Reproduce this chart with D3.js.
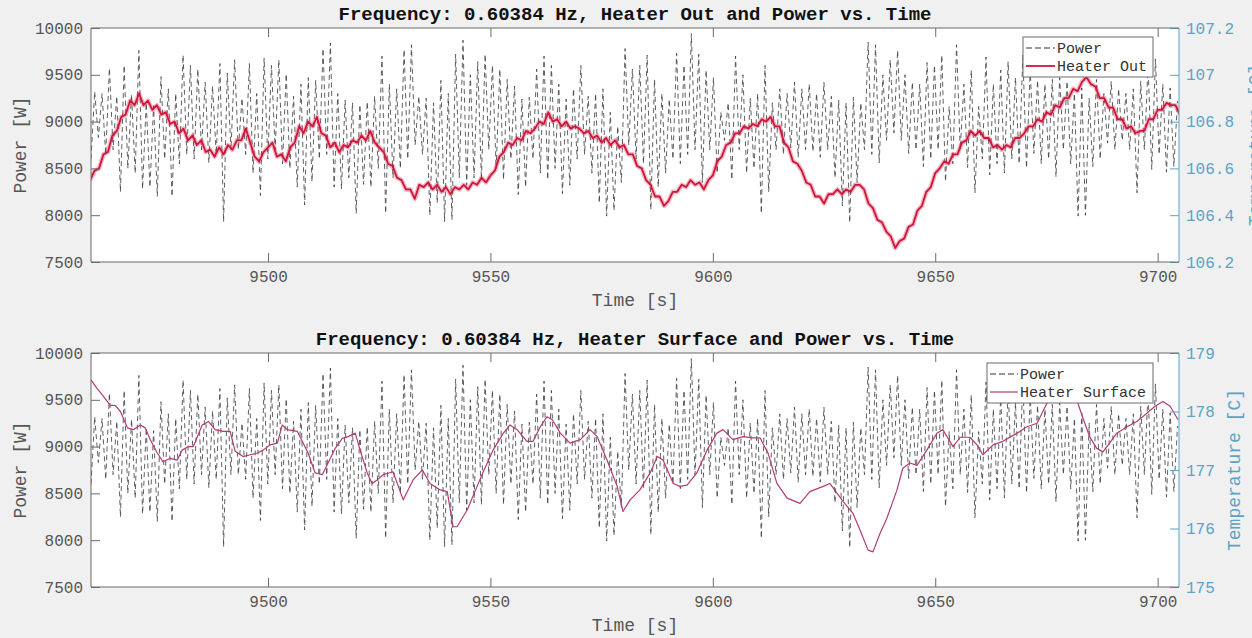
<!DOCTYPE html>
<html lang="en">
<head>
<meta charset="utf-8">
<script src="https://d3js.org/d3.v7.min.js"></script>
<style>
  body { margin: 0; background: #f0f0f0; }
  text { font-family: "Liberation Mono", "Courier New", monospace; }
</style>
</head>
<body>
<script type="text/javascript">

// ---- data ----
var timeDomain = [9460.2, 9704.8];
var timeTicks = [9500, 9550, 9600, 9650, 9700];
var powerTicks = [7500, 8000, 8500, 9000, 9500, 10000];
var outTicks = [106.2, 106.4, 106.6, 106.8, 107, 107.2];
var surfaceTicks = [175, 176, 177, 178, 179];

// power: one low and one high level per heater cycle
var powerStart = 9460.2;
var powerFreq = 0.60384;
var powerLow = [
  8600, 8830, 8650, 8700, 8250, 8500, 8450, 8280, 8300, 8200,
  8600, 8200, 8550, 8650, 8600, 8700, 8560, 8650, 7930, 8700,
  8700, 8650, 8450, 8210, 8600, 8700, 8550, 8500, 8300, 8110,
  8360, 8600, 8650, 8300, 8280, 8400, 8020, 8330, 8300, 8500,
  8020, 8400, 8500, 8600, 8750, 8650, 8000, 8130, 7930, 7950,
  8400, 8320, 8400, 8380, 8700, 8500, 8380, 8600, 8220, 8300,
  8600, 8450, 8380, 8500, 8230, 8320, 8600, 8650, 8450, 8130,
  7990, 8050, 8350, 8750, 8600, 8550, 8060, 8300, 8450, 8600,
  8550, 8650, 8700, 8350, 8700, 8450, 8800, 8380, 8700, 8450,
  8500, 8020, 8250, 8700, 8650, 8720, 8620, 8700, 8680, 8620,
  8700, 8400, 8100, 7920, 8350, 8700, 8650, 8560, 8800, 8880,
  8800, 8660, 8700, 8520, 8600, 8700, 8360, 8550, 8700, 8510,
  8240, 8600, 8430, 8550, 8450, 8600, 8550, 8505, 8660, 8550,
  8600, 8410, 8700, 8550, 7990, 8000, 8520, 8600, 8770, 8700,
  8800, 8700, 8240, 8700, 8490, 8650, 8460, 8520
];
var powerHigh = [
  9320, 9300, 9570, 9270, 9600, 9290, 9760, 9200, 9170, 9480,
  9350, 9300, 9710, 9600, 9560, 9420, 9380, 9620, 9520, 9660,
  9250, 9620, 9300, 9680, 9600, 9660, 9510, 9270, 9400, 9470,
  9440, 9780, 9840, 9300, 9230, 9200, 9180, 9210, 9270, 9700,
  9400, 9350, 9770, 9820, 9270, 9250, 9200, 9440, 9300, 9720,
  9870, 9500, 9640, 9720, 9600, 9560, 9450, 9380, 9240, 9260,
  9560, 9700, 9600, 9400, 9240, 9350, 9600, 9270, 9300, 9350,
  9100, 8950, 9780, 9560, 9600, 9710, 9450, 9300, 9240, 9730,
  9600, 9940, 9720, 9550, 9470, 9100, 9200, 9700, 9500, 9250,
  9300, 9600, 9200, 9350, 9300, 9420, 9350, 9400, 9300, 9420,
  9270, 9230, 9200, 9260, 9200, 9850, 9820, 9500, 9660, 9760,
  9500, 9420, 9400, 9630, 9600, 9710, 9160, 9820, 9400, 9550,
  9160, 9690, 9400, 9550, 9640, 9470, 9710, 9550, 9440, 9400,
  9450, 9470, 9430, 9300, 9360, 9250, 9450, 9300, 9430, 9350,
  9300, 9350, 9430, 9590, 9670, 9400, 9360, 9220
];

// heater out temperature [C], one reading per second from outStart
var outStart = 9460;
var heaterOut = [
  106.55, 106.59, 106.60, 106.66, 106.67, 106.74, 106.76, 106.82, 106.83, 106.89,
  106.87, 106.92, 106.87, 106.89, 106.85, 106.87, 106.83, 106.84, 106.79, 106.80,
  106.75, 106.77, 106.72, 106.74, 106.70, 106.72, 106.67, 106.68, 106.65, 106.69,
  106.66, 106.70, 106.68, 106.72, 106.72, 106.77, 106.71, 106.65, 106.63, 106.67,
  106.69, 106.71, 106.65, 106.66, 106.63, 106.69, 106.71, 106.78, 106.75, 106.80,
  106.78, 106.82, 106.75, 106.74, 106.69, 106.71, 106.67, 106.70, 106.69, 106.72,
  106.71, 106.74, 106.72, 106.76, 106.71, 106.69, 106.67, 106.62, 106.61, 106.56,
  106.55, 106.51, 106.51, 106.47, 106.53, 106.52, 106.54, 106.51, 106.53, 106.50,
  106.52, 106.49, 106.52, 106.51, 106.53, 106.51, 106.54, 106.53, 106.56, 106.54,
  106.57, 106.59, 106.65, 106.67, 106.71, 106.70, 106.73, 106.72, 106.76, 106.75,
  106.77, 106.80, 106.79, 106.84, 106.80, 106.81, 106.78, 106.80, 106.77, 106.78,
  106.77, 106.75, 106.76, 106.73, 106.74, 106.71, 106.73, 106.70, 106.72, 106.69,
  106.70, 106.66, 106.66, 106.61, 106.60, 106.55, 106.53, 106.48, 106.48, 106.44,
  106.46, 106.50, 106.50, 106.53, 106.52, 106.55, 106.53, 106.54, 106.51, 106.55,
  106.57, 106.63, 106.65, 106.70, 106.71, 106.75, 106.75, 106.78, 106.77, 106.79,
  106.78, 106.81, 106.80, 106.82, 106.78, 106.78, 106.71, 106.69, 106.63, 106.62,
  106.59, 106.54, 106.53, 106.48, 106.48, 106.45, 106.49, 106.49, 106.51, 106.49,
  106.51, 106.50, 106.53, 106.53, 106.51, 106.45, 106.43, 106.38, 106.37, 106.33,
  106.31, 106.26, 106.29, 106.30, 106.35, 106.36, 106.42, 106.44, 106.50, 106.52,
  106.58, 106.60, 106.63, 106.62, 106.66, 106.66, 106.71, 106.72, 106.76, 106.74,
  106.76, 106.73, 106.73, 106.69, 106.70, 106.68, 106.70, 106.69, 106.73, 106.73,
  106.75, 106.78, 106.78, 106.81, 106.80, 106.84, 106.83, 106.87, 106.86, 106.90,
  106.90, 106.94, 106.93, 106.97, 106.99, 106.96, 106.95, 106.90, 106.90, 106.86,
  106.86, 106.81, 106.81, 106.77, 106.78, 106.75, 106.76, 106.76, 106.81, 106.81,
  106.85, 106.85, 106.88, 106.87, 106.87, 106.83
];

// heater surface temperature [C]
var surfaceTime = [
  9460.2, 9461.5, 9463.0, 9464.5, 9465.7, 9466.8, 9468.4, 9469.7, 9471.3, 9472.4,
  9473.5, 9475.1, 9476.4, 9478.0, 9479.6, 9480.7, 9482.1, 9483.2, 9485.2, 9486.6,
  9488.1, 9489.9, 9491.5, 9492.6, 9494.4, 9496.0, 9497.6, 9498.9, 9500.5, 9502.1,
  9503.2, 9504.3, 9506.6, 9507.7, 9509.0, 9510.6, 9512.2, 9513.5, 9515.1, 9516.7,
  9518.0, 9519.6, 9520.7, 9522.3, 9523.4, 9524.5, 9525.9, 9528.1, 9530.4, 9532.6,
  9534.7, 9536.4, 9538.7, 9540.3, 9541.6, 9542.5, 9544.8, 9547.0, 9548.4, 9550.6,
  9552.9, 9554.4, 9556.0, 9558.2, 9559.6, 9561.2, 9562.7, 9563.9, 9565.7, 9567.9,
  9570.2, 9572.4, 9574.0, 9576.2, 9578.5, 9579.8, 9581.4, 9583.6, 9585.9, 9587.5,
  9588.8, 9591.1, 9592.6, 9594.2, 9596.4, 9598.7, 9600.9, 9602.3, 9604.5, 9606.8,
  9609.0, 9610.6, 9612.4, 9614.4, 9616.7, 9619.6, 9621.8, 9624.8, 9626.3, 9629.3,
  9631.5, 9633.1, 9634.9, 9636.0, 9637.6, 9639.1, 9641.4, 9642.7, 9644.3, 9645.9,
  9648.1, 9650.4, 9651.7, 9654.0, 9655.6, 9657.8, 9659.4, 9660.7, 9663.0, 9665.2,
  9668.4, 9670.6, 9672.9, 9675.1, 9677.4, 9679.6, 9681.8, 9683.1, 9684.7, 9686.3,
  9687.7, 9689.2, 9690.8, 9693.1, 9695.3, 9697.6, 9699.4, 9701.2, 9702.8, 9704.6
];
var surfaceTemp = [
  178.54, 178.40, 178.26, 178.11, 178.10, 178.00, 177.72, 177.69, 177.77, 177.72,
  177.52, 177.29, 177.14, 177.20, 177.17, 177.34, 177.40, 177.40, 177.77, 177.83,
  177.69, 177.66, 177.66, 177.32, 177.23, 177.26, 177.29, 177.34, 177.43, 177.46,
  177.77, 177.69, 177.66, 177.49, 177.29, 176.95, 176.92, 177.12, 177.37, 177.54,
  177.57, 177.63, 177.34, 176.95, 176.77, 176.83, 176.92, 176.97, 176.49, 176.83,
  177.00, 176.77, 176.66, 176.63, 176.03, 176.03, 176.32, 176.72, 176.97, 177.34,
  177.63, 177.77, 177.69, 177.49, 177.49, 177.74, 177.91, 177.86, 177.63, 177.46,
  177.52, 177.69, 177.57, 177.17, 176.72, 176.29, 176.49, 176.66, 176.95, 177.23,
  177.17, 176.77, 176.72, 176.74, 176.95, 177.34, 177.63, 177.69, 177.52, 177.57,
  177.55, 177.55, 177.29, 176.77, 176.52, 176.43, 176.63, 176.72, 176.77, 176.46,
  176.26, 175.97, 175.63, 175.60, 175.92, 176.17, 176.66, 177.03, 177.12, 177.08,
  177.34, 177.63, 177.69, 177.40, 177.56, 177.56, 177.43, 177.26, 177.43, 177.49,
  177.63, 177.74, 177.80, 178.14, 178.37, 178.40, 178.20, 177.91, 177.57, 177.37,
  177.31, 177.46, 177.63, 177.74, 177.83, 177.97, 178.09, 178.17, 178.09, 177.86
];

// ---- drawing ----
var w = 1252;
var h = 638;
var left = 91, right = 1179;
var axisGrey = "#6a6a6a";
var tickGrey = "#555555";
var rightBlue = "#5aa3c8";

var svg = d3.select("body")
            .append("svg")
            .attr("width", w)
            .attr("height", h);

svg.append("rect")
   .attr("width", w)
   .attr("height", h)
   .attr("fill", "#f0f0f0");

var x = d3.scaleLinear()
          .domain(timeDomain)
          .range([left, right]);

// power series: low then high each cycle
var period = 1 / powerFreq;
var powerPts = [];
powerLow.forEach(function(v, i) {
  powerPts.push([powerStart + i * period, v]);
  powerPts.push([powerStart + (i + 0.5) * period, powerHigh[i]]);
});

var outPts = heaterOut.map(function(v, i) { return [outStart + i, v]; });
var surfacePts = surfaceTemp.map(function(v, i) { return [surfaceTime[i], v]; });

function fmtTemp(d) { return String(+d.toFixed(1)); }

function drawPanel(cfg) {
  var top = cfg.top, bottom = cfg.bottom;
  var g = svg.append("g");

  var yP = d3.scaleLinear().domain([7500, 10000]).range([bottom, top]);
  var yT = d3.scaleLinear().domain(cfg.tempDomain).range([bottom, top]);

  g.append("rect")
   .attr("x", left).attr("y", top)
   .attr("width", right - left).attr("height", bottom - top)
   .attr("fill", "#ffffff");

  g.append("clipPath").attr("id", cfg.id)
   .append("rect")
   .attr("x", left).attr("y", top)
   .attr("width", right - left).attr("height", bottom - top);

  var plot = g.append("g").attr("clip-path", "url(#" + cfg.id + ")");

  plot.append("path")
      .datum(powerPts)
      .attr("d", d3.line().x(function(d) { return x(d[0]); }).y(function(d) { return yP(d[1]); }))
      .attr("fill", "none")
      .attr("stroke", "#3a3a3a")
      .attr("stroke-opacity", 0.8)
      .attr("stroke-width", 1)
      .attr("stroke-dasharray", "5,3.5");

  var tempLine = d3.line()
                   .x(function(d) { return x(d[0]); })
                   .y(function(d) { return yT(d[1]); });

  if (cfg.halo) {
    plot.append("path")
        .datum(cfg.tempPts)
        .attr("d", tempLine)
        .attr("fill", "none")
        .attr("stroke", cfg.tempColor)
        .attr("stroke-opacity", 0.3)
        .attr("stroke-width", cfg.halo)
        .attr("stroke-linejoin", "round");
  }

  plot.append("path")
      .datum(cfg.tempPts)
      .attr("d", tempLine)
      .attr("fill", "none")
      .attr("stroke", cfg.tempColor)
      .attr("stroke-width", cfg.tempWidth)
      .attr("stroke-linejoin", "round");

  // axes
  var xb = g.append("g")
            .attr("transform", "translate(0," + bottom + ")")
            .style("color", axisGrey)
            .call(d3.axisBottom(x).tickValues(timeTicks).tickSize(-9).tickPadding(9).tickFormat(d3.format("d")));
  var xt = g.append("g")
            .attr("transform", "translate(0," + top + ")")
            .style("color", axisGrey)
            .call(d3.axisTop(x).tickValues(timeTicks).tickSize(-9).tickFormat(""));
  var yl = g.append("g")
            .attr("transform", "translate(" + left + ",0)")
            .style("color", axisGrey)
            .call(d3.axisLeft(yP).tickValues(powerTicks).tickSize(-9).tickPadding(8).tickFormat(d3.format("d")));
  var yr = g.append("g")
            .attr("transform", "translate(" + right + ",0)")
            .style("color", rightBlue)
            .call(d3.axisRight(yT).tickValues(cfg.tempTicks).tickSize(-9).tickPadding(7).tickFormat(fmtTemp));

  [xb, xt, yl, yr].forEach(function(a) {
    a.select(".domain").remove();
    a.selectAll("text").attr("font-size", 16).attr("font-family", "Liberation Mono, monospace");
  });
  xb.selectAll("text").attr("fill", tickGrey);
  yl.selectAll("text").attr("fill", tickGrey);

  // box
  g.append("path")
   .attr("d", "M" + right + "," + top + "H" + left + "V" + bottom + "H" + right)
   .attr("fill", "none").attr("stroke", axisGrey).attr("stroke-width", 1);
  g.append("line")
   .attr("x1", right).attr("x2", right).attr("y1", top).attr("y2", bottom)
   .attr("stroke", rightBlue).attr("stroke-width", 1);

  // title and labels
  g.append("text")
   .attr("x", (left + right) / 2).attr("y", top - 8)
   .attr("text-anchor", "middle")
   .attr("font-size", 19).attr("font-weight", "bold")
   .attr("fill", "#111")
   .text(cfg.title);

  g.append("text")
   .attr("x", (left + right) / 2).attr("y", bottom + 44)
   .attr("text-anchor", "middle")
   .attr("font-size", 18).attr("fill", tickGrey)
   .text("Time [s]");

  g.append("text")
   .attr("transform", "translate(26," + (top + bottom) / 2 + ") rotate(-90)")
   .attr("text-anchor", "middle")
   .attr("font-size", 18).attr("fill", tickGrey)
   .text("Power [W]");

  // the upper panel's right label sits mostly past the figure edge, as in the source
  g.append("text")
   .attr("transform", "translate(" + cfg.rightLabelX + "," + (top + bottom) / 2 + ") rotate(-90)")
   .attr("text-anchor", "middle")
   .attr("font-size", 18).attr("fill", rightBlue)
   .text("Temperature [C]");

  // legend
  var lg = g.append("g");
  var lb = cfg.legend;
  lg.append("rect")
    .attr("x", lb.x).attr("y", top + lb.dy)
    .attr("width", lb.w).attr("height", 40)
    .attr("fill", "#ffffff").attr("stroke", axisGrey).attr("stroke-width", 1);
  var rows = [
    { label: "Power", color: "#333", dash: "6,3", width: 1 },
    { label: cfg.tempLabel, color: cfg.tempColor, dash: null, width: cfg.tempWidth }
  ];
  rows.forEach(function(r, i) {
    var yy = top + lb.dy + 11 + i * 18;
    lg.append("line")
      .attr("x1", lb.x + 3).attr("x2", lb.x + lb.sample)
      .attr("y1", yy).attr("y2", yy)
      .attr("stroke", r.color).attr("stroke-width", r.width)
      .attr("stroke-dasharray", r.dash);
    lg.append("text")
      .attr("x", lb.x + lb.sample + 2).attr("y", yy + 5)
      .attr("font-size", 15).attr("fill", "#333")
      .text(r.label);
  });
}

drawPanel({
  id: "clipTop", top: 28, bottom: 262,
  title: "Frequency: 0.60384 Hz, Heater Out and Power vs. Time",
  tempPts: outPts, tempDomain: [106.2, 107.2], tempTicks: outTicks,
  tempColor: "#d2143a", tempWidth: 1.8, halo: 4.5, tempLabel: "Heater Out",
  rightLabelX: 1261,
  legend: { x: 1023, dy: 9, w: 130, sample: 32 }
});

drawPanel({
  id: "clipBottom", top: 353, bottom: 587,
  title: "Frequency: 0.60384 Hz, Heater Surface and Power vs. Time",
  tempPts: surfacePts, tempDomain: [175, 179], tempTicks: surfaceTicks,
  tempColor: "#b23c74", tempWidth: 1.2, halo: 0, tempLabel: "Heater Surface",
  rightLabelX: 1240,
  legend: { x: 987, dy: 10, w: 166, sample: 31 }
});

</script>
</body>
</html>
